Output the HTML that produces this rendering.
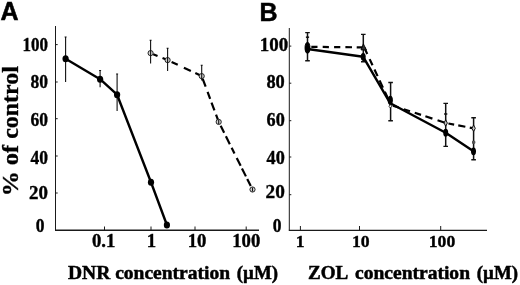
<!DOCTYPE html>
<html><head><meta charset="utf-8">
<style>
html,body{margin:0;padding:0;background:#fff;}
body{width:520px;height:285px;overflow:hidden;}
svg{display:block;will-change:transform;}
text{font-family:"Liberation Serif",serif;font-weight:bold;fill:#000;stroke:#000;stroke-width:0.35px;}
.sans{font-family:"Liberation Sans",sans-serif;font-weight:bold;}
</style></head><body>
<svg width="520" height="285" viewBox="0 0 520 285">
<rect width="520" height="285" fill="#fff"/>
<text class="sans" x="0.4" y="19.7" font-size="25" style="stroke-width:0.5px">A</text>
<text class="sans" x="259.4" y="20.7" font-size="25" style="stroke-width:0.5px">B</text>

<g stroke="#1a1a1a" stroke-width="1" fill="none">
<path d="M55.5 26V230.3"/>
<path stroke-width="1.4" d="M55 230.3H259"/>
<path d="M55.5 44.6h2.2M55.5 82h2.2M55.5 118.7h2.2M55.5 156h2.2M55.5 193h2.2"/>
<path d="M104.5 230v-3.5M151 230v-3.5M195 230v-3.5M246.2 230v-3.5"/>
</g>
<text transform="translate(48,50.7) scale(0.97,1.1)" font-size="17.5" text-anchor="end">100</text>
<text transform="translate(48,88.4) scale(1.0,1.1)" font-size="17.5" text-anchor="end">80</text>
<text transform="translate(48,126) scale(1.0,1.1)" font-size="17.5" text-anchor="end">60</text>
<text transform="translate(48,163.7) scale(1.0,1.1)" font-size="17.5" text-anchor="end">40</text>
<text transform="translate(48,199.1) scale(1.08,1.1)" font-size="17.5" text-anchor="end">20</text>
<text transform="translate(44.5,232) scale(1.0,1.1)" font-size="17.5" text-anchor="end">0</text>
<text transform="translate(103.7,247.3) scale(1.07,1.05)" font-size="17.5" text-anchor="middle">0.1</text>
<text transform="translate(151.4,247.3) scale(1.07,1.05)" font-size="17.5" text-anchor="middle">1</text>
<text transform="translate(197,247.3) scale(1.07,1.05)" font-size="17.5" text-anchor="middle">10</text>
<text transform="translate(246.3,247.3) scale(1.07,1.05)" font-size="17.5" text-anchor="middle">100</text>
<text x="68" y="278.6" font-size="19.3" style="stroke-width:0.5px" textLength="162" lengthAdjust="spacingAndGlyphs">DNR concentration</text>
<text x="236.8" y="278.6" font-size="19.3" style="stroke-width:0.5px" textLength="41.2" lengthAdjust="spacingAndGlyphs">(µM)</text>
<text transform="translate(18,196.3) rotate(-90)" font-size="24" textLength="25.2" lengthAdjust="spacingAndGlyphs">%</text>
<text transform="translate(18,165.2) rotate(-90)" font-size="24" textLength="20.3" lengthAdjust="spacingAndGlyphs">of</text>
<text transform="translate(18,138.8) rotate(-90)" font-size="24" textLength="72.6" lengthAdjust="spacingAndGlyphs">control</text>
<g stroke="#111" stroke-width="1.1" fill="none">
<path d="M65.6 37V82M64.6 37h2"/>
<path d="M100.1 70.5V87.2M99.1 70.5h2"/>
<path d="M117.1 74V111M116.1 74h2"/>
</g>
<polyline points="65.6,58.8 100.1,79.2 117.1,94.7 151,182.2 166.9,225" stroke="#000" stroke-width="2.4" fill="none" stroke-linejoin="round"/>
<g fill="#000">
<ellipse cx="65.6" cy="58.8" rx="3.1" ry="3.5"/>
<ellipse cx="100.1" cy="79.2" rx="3.1" ry="3.5"/>
<ellipse cx="117.1" cy="94.7" rx="3.1" ry="3.5"/>
<ellipse cx="151" cy="182.2" rx="3.1" ry="3.5"/>
<ellipse cx="166.9" cy="225" rx="3.1" ry="3.5"/>
</g>
<path d="M150.6 53.1L167.6 60.1" stroke="#000" stroke-width="2.2" fill="none" stroke-dasharray="0 2.8 4.7 5.4 6 100"/>
<path d="M167.6 60.1L201.7 76.1" stroke="#000" stroke-width="2.2" fill="none" stroke-dasharray="0 4.4 6.8 6.8 7.7 4.9 7 100"/>
<path d="M201.7 76.1L218.7 121.9" stroke="#000" stroke-width="2.2" fill="none" stroke-dasharray="0 2.9 8.4 5.6 7.4 3.9 8.4 4.6 8 100"/>
<path d="M218.7 121.9L252.5 189.5" stroke="#000" stroke-width="2.2" fill="none" stroke-dasharray="0 4.4 7.8 3.9 8.8 4 6.4 5 8.8 2.9 8.9 2.9 7.9 100"/>
<g fill="#d4d4d4" stroke="#111" stroke-width="0.9">
<circle cx="150.6" cy="53.1" r="2.6"/>
<circle cx="167.6" cy="60.1" r="2.6"/>
<circle cx="201.7" cy="76.1" r="2.6"/>
<circle cx="218.7" cy="121.9" r="2.6"/>
<circle cx="252.5" cy="189.5" r="2.6"/>
</g>
<g stroke="#111" stroke-width="1.1" fill="none">
<path d="M150.6 40.3V63.4M149.6 40.3h2"/>
<path d="M167.6 48.2V71M166.6 48.2h2"/>
<path d="M201.7 65.2V80.5M200.7 65.2h2"/>
<path d="M218.7 119.9V123.9"/>
<path d="M252.5 187.5V191.5"/>
</g>
<g stroke="#1a1a1a" stroke-width="1" fill="none">
<path d="M289.3 28V230.4"/>
<path stroke-width="1.4" d="M288.8 230.4H487"/>
<path d="M289.3 46.1h2M289.3 83.2h2M289.3 120.7h2M289.3 157h2M289.3 194.7h2"/>
<path d="M300.4 230v-4M359.5 230v-4M440.7 230v-4"/>
</g>
<text transform="translate(288.2,50.9) scale(1.08,1.1)" font-size="17.5" text-anchor="end">100</text>
<text transform="translate(284.8,88.4) scale(1.05,1.1)" font-size="17.5" text-anchor="end">80</text>
<text transform="translate(284.8,126) scale(1.04,1.1)" font-size="17.5" text-anchor="end">60</text>
<text transform="translate(284.8,164) scale(1.04,1.1)" font-size="17.5" text-anchor="end">40</text>
<text transform="translate(284.8,198.4) scale(1.1,1.1)" font-size="17.5" text-anchor="end">20</text>
<text transform="translate(281.5,232.2) scale(1.0,1.1)" font-size="17.5" text-anchor="end">0</text>
<text transform="translate(300.2,247.3) scale(1.04,0.96)" font-size="17" text-anchor="middle">1</text>
<text transform="translate(360.8,247.3) scale(1.04,0.96)" font-size="17" text-anchor="middle">10</text>
<text transform="translate(442,247.3) scale(1.04,0.96)" font-size="17" text-anchor="middle">100</text>
<text x="308" y="278.6" font-size="19.3" style="stroke-width:0.5px" textLength="40.3" lengthAdjust="spacingAndGlyphs">ZOL</text>
<text x="355" y="278.6" font-size="19.3" style="stroke-width:0.5px" textLength="115" lengthAdjust="spacingAndGlyphs">concentration</text>
<text x="476.8" y="278.6" font-size="19.3" style="stroke-width:0.5px" textLength="41.2" lengthAdjust="spacingAndGlyphs">(µM)</text>
<g stroke="#111" stroke-width="1.5" fill="none">
<path d="M307.5 32.6V60.7"/>
<path stroke-width="1.4" d="M305.2 32.6h4.6M305.2 60.7h4.6"/>
<path d="M305.9 37.2h3.2"/>
<path d="M363.3 34.4V61.8"/>
<path stroke-width="1.4" d="M361.0 34.4h4.6M361.0 61.8h4.6"/>
<path d="M390.6 82.5V120.7"/>
<path stroke-width="1.4" d="M388.3 82.5h4.6M388.3 120.7h4.6"/>
<path d="M445.7 103.4V146.4"/>
<path stroke-width="1.4" d="M443.4 103.4h4.6M443.4 146.4h4.6"/>
<path d="M444.09999999999997 114h3.2"/>
<path d="M473.6 117.8V159.7"/>
<path stroke-width="1.4" d="M471.3 117.8h4.6M471.3 159.7h4.6"/>
<path d="M472.0 142.3h3.2"/>
</g>
<path d="M307.5 46.8L364.2 47.4" stroke="#000" stroke-width="2.2" fill="none" stroke-dasharray="0 3.8 6.2 5.2 6.2 5.2 6.2 5.1 6.6 4.7 8 100"/>
<path d="M364.2 47.4L391 105" stroke="#000" stroke-width="2.2" fill="none" stroke-dasharray="7.2 5.7 6.8 4.7 7.3 4.7 8 4.5 8 4.5 8 100"/>
<path d="M391 105L445.7 123" stroke="#000" stroke-width="2.2" fill="none" stroke-dasharray="0 2 6 5.5 6.5 5 6.6 4.6 7.4 5.4 9 100"/>
<path d="M445.7 123L473.6 128.3" stroke="#000" stroke-width="2.2" fill="none" stroke-dasharray="0 2.8 5.8 4.2 7.2 4.5 4 100"/>
<polyline points="307.5,49 363.2,56.8 390.3,103.3 445.7,132.7 473.5,151.3" stroke="#000" stroke-width="2.4" fill="none" stroke-linejoin="round"/>
<g fill="#000">
<ellipse cx="307.5" cy="49" rx="2.5" ry="3.9"/>
<ellipse cx="363.2" cy="56.8" rx="2.5" ry="3.9"/>
<ellipse cx="390.3" cy="100.3" rx="2.6" ry="4.6"/>
<ellipse cx="445.7" cy="132.7" rx="2.5" ry="3.9"/>
<ellipse cx="473.5" cy="151.3" rx="2.5" ry="3.9"/>
</g>
<g fill="#c4c4c4" stroke="#000" stroke-width="0.9">
<ellipse cx="307.5" cy="47.8" rx="2.5" ry="5.6" fill="#000"/>
<path d="M363.4 43.9L366.4 49.9H361.0Z" fill="#333"/>
<path d="M390.3 104.4L391.7 106.2L390.3 108L388.9 106.2Z" fill="#fff" stroke-width="0.7"/>
<path d="M445.7 119.8L447.4 123L445.7 126.2L444.0 123Z"/>
<path d="M473.6 125.10000000000001L475.3 128.3L473.6 131.5L471.90000000000003 128.3Z"/>
</g>
<rect x="472.1" y="140.8" width="3" height="3" fill="#555"/>
</svg>
</body></html>
